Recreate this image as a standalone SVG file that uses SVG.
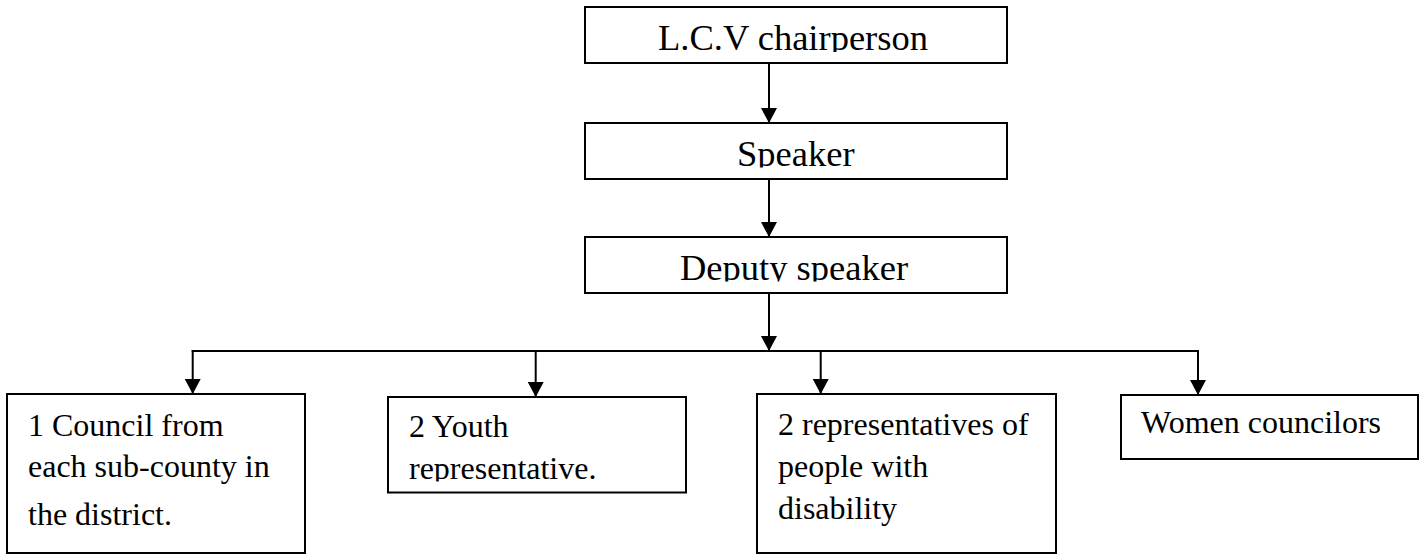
<svg xmlns="http://www.w3.org/2000/svg" width="1419" height="555" viewBox="0 0 1419 555">
<style>
.box{fill:#fff;stroke:#000;stroke-width:2}
.big{font-family:"Liberation Serif","Times New Roman",serif;font-size:36.5px;fill:#000}
.sm{font-family:"Liberation Serif","Times New Roman",serif;font-size:32px;fill:#000}
.ln{fill:none;stroke:#000;stroke-width:2}
</style>
<defs>
<marker id="ah" markerUnits="userSpaceOnUse" markerWidth="16" markerHeight="16" refX="15" refY="8" orient="auto" viewBox="0 0 16 16">
<path d="M0,0 L15,8 L0,16 Z" fill="#000"/>
</marker>
<clipPath id="c1"><rect x="585" y="7" width="422" height="45"/></clipPath>
<clipPath id="c2"><rect x="585" y="123" width="422" height="44.5"/></clipPath>
<clipPath id="c3"><rect x="585" y="237" width="422" height="44.5"/></clipPath>
<clipPath id="c5"><rect x="388" y="397" width="298" height="84.5"/></clipPath>
</defs>
<rect width="1419" height="555" fill="#fff"/>
<g id="connectors">
<line class="ln" x1="769" y1="63" x2="769" y2="123" marker-end="url(#ah)"/>
<line class="ln" x1="769" y1="179" x2="769" y2="237" marker-end="url(#ah)"/>
<line class="ln" x1="769" y1="293" x2="769" y2="351" marker-end="url(#ah)"/>
<line class="ln" x1="191.7" y1="351" x2="1199" y2="351"/>
<line class="ln" x1="192.7" y1="350" x2="192.7" y2="394" marker-end="url(#ah)"/>
<line class="ln" x1="535.7" y1="351" x2="535.7" y2="397" marker-end="url(#ah)"/>
<line class="ln" x1="820.7" y1="351" x2="820.7" y2="394" marker-end="url(#ah)"/>
<line class="ln" x1="1198" y1="350" x2="1198" y2="395" marker-end="url(#ah)"/>
</g>
<g id="n-chair">
<rect class="box" x="585" y="7" width="422" height="56"/>
<text class="big" x="658" y="50" clip-path="url(#c1)">L.C.V chairperson</text>
</g>
<g id="n-speaker">
<rect class="box" x="585" y="123" width="422" height="56"/>
<text class="big" x="737" y="166" clip-path="url(#c2)">Speaker</text>
</g>
<g id="n-deputy">
<rect class="box" x="585" y="237" width="422" height="56"/>
<text class="big" x="680" y="280" clip-path="url(#c3)">Deputy speaker</text>
</g>
<g id="n-council">
<rect class="box" x="7" y="394" width="298" height="159"/>
<text class="sm" x="28" y="436">1 Council from</text>
<text class="sm" x="28" y="477">each sub-county in</text>
<text class="sm" x="28" y="525">the district.</text>
</g>
<g id="n-youth">
<rect class="box" x="388" y="397" width="298" height="95.5"/>
<text class="sm" clip-path="url(#c5)"><tspan x="409" y="437">2 Youth</tspan><tspan x="409" y="479">representative.</tspan></text>
</g>
<g id="n-disability">
<rect class="box" x="757" y="394" width="299" height="159"/>
<text class="sm" x="778" y="435">2 representatives of</text>
<text class="sm" x="778" y="477">people with</text>
<text class="sm" x="778" y="519">disability</text>
</g>
<g id="n-women">
<rect class="box" x="1121" y="395" width="297" height="64"/>
<text class="sm" x="1141" y="433">Women councilors</text>
</g>
</svg>
